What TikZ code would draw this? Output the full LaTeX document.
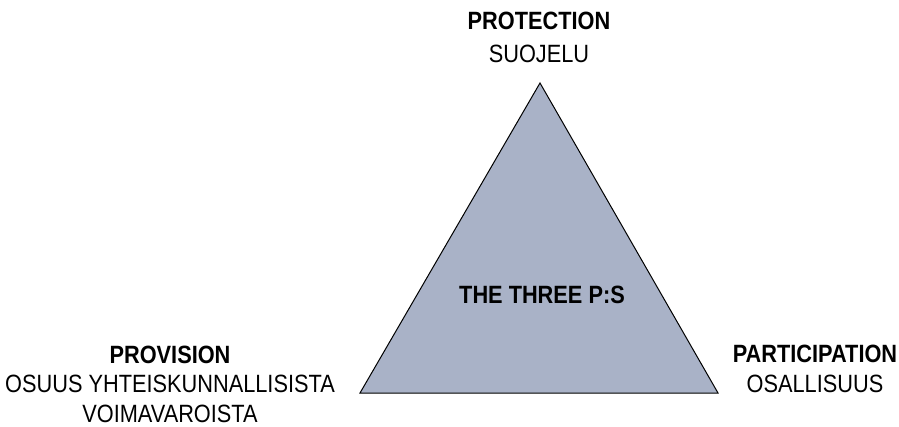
\documentclass[tikz,border=0pt]{standalone}
\usepackage{fontspec}
\setmainfont{Liberation Sans}[FakeStretch=0.87]
\definecolor{trifill}{RGB}{169,178,199}
\begin{document}
\begin{tikzpicture}[x=1pt,y=-1pt,
  lbl/.style={inner sep=0pt,align=center,anchor=base,font=\fontsize{25}{29.5}\selectfont},
  tri/.style={draw=black,line width=1pt,fill=trifill,line join=miter}]
\useasboundingbox (0,0) rectangle (899,427);
\coordinate (apex) at (540,83);
\coordinate (bl) at (360,393);
\coordinate (br) at (718,393);
\draw[tri] (apex) -- (bl) -- (br) -- cycle;
\node[lbl] (center) at (542,304) {\textbf{THE THREE P:S}};
\node[lbl] (top) at (539,62.5) {\textbf{PROTECTION}\\[3pt]SUOJELU};
\node[lbl] (left) at (170,422) {\textbf{PROVISION}\\OSUUS YHTEISKUNNALLISISTA\\VOIMAVAROISTA};
\node[lbl] (right) at (815,392) {\textbf{PARTICIPATION}\\OSALLISUUS};
\end{tikzpicture}
\end{document}
